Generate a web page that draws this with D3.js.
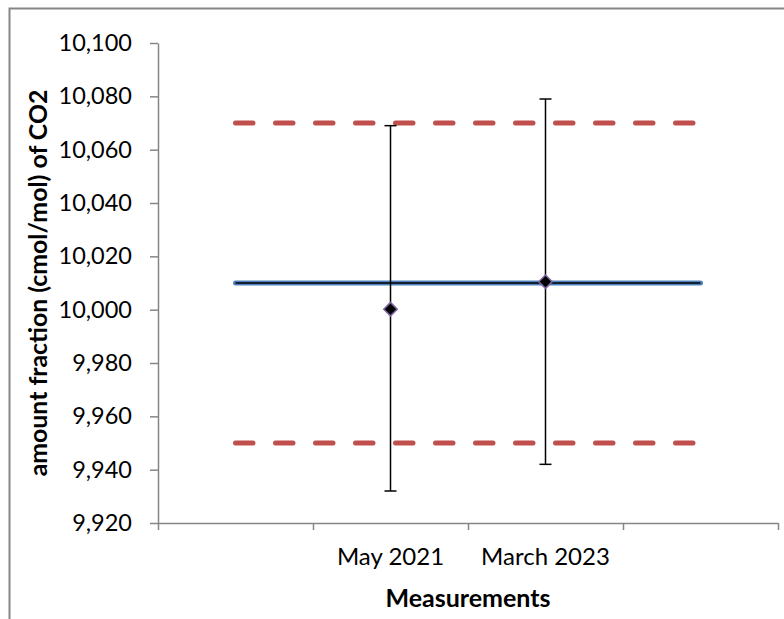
<!DOCTYPE html>
<html>
<head>
<meta charset="utf-8">
<script src="https://cdn.jsdelivr.net/npm/d3@7"></script>
<style>
  html, body { margin: 0; padding: 0; background: #fff; }
  #chart { width: 784px; height: 619px; }
</style>
</head>
<body>
<div id="chart"></div>
<script>
// category slots along the x axis (first and last are empty)
const categories = ["", "May 2021", "March 2023", ""];
// measured amount fraction and its expanded uncertainty range
const measured = [null, 10.0002, 10.0105, null];
const errLow = [null, 9.932, 9.942, null];
const errHigh = [null, 10.069, 10.079, null];
// reference value and tolerance limits
const reference = [10.010, 10.010, 10.010, 10.010];
const upperLimit = [10.070, 10.070, 10.070, 10.070];
const lowerLimit = [9.950, 9.950, 9.950, 9.950];
const yTicks = [9.92, 9.94, 9.96, 9.98, 10.00, 10.02, 10.04, 10.06, 10.08, 10.10];

const width = 784, height = 619;
const margin = { top: 43, right: 6, bottom: 96, left: 158 };

const svg = d3.select("#chart").append("svg")
  .attr("width", width)
  .attr("height", height)
  .style("font-family", "Lato, 'Open Sans', sans-serif");

// outer chart frame
svg.append("rect")
  .attr("x", 9.5).attr("y", 8.5)
  .attr("width", 820).attr("height", 640)
  .attr("fill", "none")
  .attr("stroke", "#868686")
  .attr("stroke-width", 2);

const x = d3.scaleLinear()
  .domain([0, categories.length])
  .range([margin.left, width - margin.right]);

const y = d3.scaleLinear()
  .domain([9.92, 10.10])
  .range([height - margin.bottom, margin.top]);

const locale = d3.formatLocale({ decimal: ",", thousands: ".", grouping: [3], currency: ["", ""] });
const fmt = locale.format(".3f");

// y axis
const yAxis = svg.append("g")
  .attr("transform", `translate(${margin.left},0)`)
  .call(d3.axisLeft(y).tickValues(yTicks).tickFormat(fmt).tickSize(8).tickPadding(18).tickSizeOuter(0));
yAxis.select(".domain").attr("stroke", "#868686").attr("stroke-width", 1.5);
yAxis.selectAll(".tick line").attr("stroke", "#868686").attr("stroke-width", 1.5);
yAxis.selectAll(".tick text")
  .attr("fill", "#000")
  .style("font-size", "23.5px")
  .style("font-family", "Lato, 'Open Sans', sans-serif");

// x axis (ticks between categories)
const xAxis = svg.append("g")
  .attr("transform", `translate(0,${y(9.92)})`)
  .call(d3.axisBottom(x).tickValues(d3.range(categories.length + 1)).tickFormat("").tickSize(7).tickSizeOuter(0));
xAxis.select(".domain").attr("stroke", "#868686").attr("stroke-width", 1.5);
xAxis.selectAll(".tick line").attr("stroke", "#868686").attr("stroke-width", 1.5);

svg.append("g").selectAll("text")
  .data(categories)
  .join("text")
  .attr("x", (d, i) => x(i + 0.5))
  .attr("y", y(9.92) + 42)
  .attr("text-anchor", "middle")
  .style("font-size", "24px")
  .text(d => d);

const mid = (d, i) => x(i + 0.5);

// tolerance limits
const line = d3.line().x((d, i) => mid(d, i)).y(d => y(d));
[upperLimit, lowerLimit].forEach(lim => {
  svg.append("path")
    .datum(lim)
    .attr("d", line)
    .attr("fill", "none")
    .attr("stroke", "#C0504D")
    .attr("stroke-width", 5)
    .attr("stroke-linecap", "round")
    .attr("stroke-dasharray", "17.5 22.5");
});

// reference line (blue outline with dark core)
svg.append("path")
  .datum(reference)
  .attr("d", line)
  .attr("fill", "none")
  .attr("stroke", "#4F81BD")
  .attr("stroke-width", 5)
  .attr("stroke-linecap", "round");
svg.append("path")
  .datum(reference)
  .attr("d", line)
  .attr("fill", "none")
  .attr("stroke", "#000")
  .attr("stroke-width", 1.5);

// error bars
const idx = d3.range(categories.length).filter(i => measured[i] !== null);
const eb = svg.append("g").attr("stroke", "#000").attr("stroke-width", 1.5);
idx.forEach(i => {
  const cx = x(i + 0.5);
  eb.append("line").attr("x1", cx).attr("x2", cx).attr("y1", y(errLow[i])).attr("y2", y(errHigh[i]));
  eb.append("line").attr("x1", cx - 6).attr("x2", cx + 6).attr("y1", y(errLow[i])).attr("y2", y(errLow[i]));
  eb.append("line").attr("x1", cx - 6).attr("x2", cx + 6).attr("y1", y(errHigh[i])).attr("y2", y(errHigh[i]));
});

// markers
svg.append("g").selectAll("path")
  .data(idx)
  .join("path")
  .attr("d", d3.symbol(d3.symbolSquare, 90))
  .attr("transform", i => `translate(${x(i + 0.5)},${y(measured[i])}) rotate(45)`)
  .attr("fill", "#000")
  .attr("stroke", "#8064A2")
  .attr("stroke-width", 1.5);

// axis titles
svg.append("text")
  .attr("x", x(2))
  .attr("y", 607)
  .attr("text-anchor", "middle")
  .style("font-size", "25px")
  .style("font-weight", "bold")
  .text("Measurements");

// y title: fit to ~387px and centre on the plot area
const yTitle = svg.append("text")
  .attr("text-anchor", "start")
  .style("font-size", "22px")
  .style("font-weight", "bold")
  .text("amount fraction (cmol/mol) of CO2");
let len = yTitle.node().getComputedTextLength();
const fs = 22 * 387 / len;
yTitle.style("font-size", fs + "px");
len = yTitle.node().getComputedTextLength();
const yc = (y(9.92) + y(10.10)) / 2;
yTitle.attr("transform", `translate(47,${yc + len / 2}) rotate(-90)`);
</script>
</body>
</html>
